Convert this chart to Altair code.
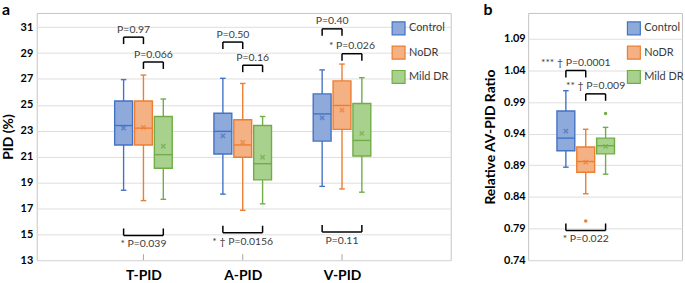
import altair as alt
import pandas as pd

# ---------------- data ----------------
groups = ["T-PID", "A-PID", "V-PID"]
series = ["Control", "NoDR", "Mild DR"]
fill_colors = ["#8eaadb", "#f4b183", "#a9d18e"]
stroke_colors = ["#4472c4", "#ed7d31", "#70ad47"]

# Panel a (PID %), values per group T-PID, A-PID, V-PID
ctrl_min = [18.4, 18.1, 18.7]
ctrl_q1 = [21.9, 21.2, 22.2]
ctrl_med = [23.4, 22.95, 24.3]
ctrl_q3 = [25.3, 24.35, 25.85]
ctrl_max = [26.95, 27.05, 27.7]
ctrl_mean = [23.2, 22.6, 24.0]

nodr_min = [17.6, 16.85, 18.5]
nodr_q1 = [21.9, 20.95, 23.1]
nodr_med = [23.2, 21.9, 24.95]
nodr_q3 = [25.3, 23.85, 26.85]
nodr_max = [27.3, 26.65, 28.15]
nodr_mean = [23.25, 22.1, 24.6]

mild_min = [17.7, 17.35, 18.25]
mild_q1 = [20.1, 19.2, 21.05]
mild_med = [21.15, 20.45, 22.25]
mild_q3 = [24.1, 23.4, 25.1]
mild_max = [25.45, 24.1, 27.1]
mild_mean = [21.8, 20.95, 22.8]

# Panel b (Relative AV-PID ratio), values per series Control, NoDR, Mild DR
ratio_min = [0.887, 0.845, 0.876]
ratio_q1 = [0.913, 0.879, 0.908]
ratio_med = [0.933, 0.896, 0.921]
ratio_q3 = [0.976, 0.919, 0.933]
ratio_max = [1.008, 0.947, 0.950]
ratio_mean = [0.944, 0.895, 0.920]
outlier_series = ["NoDR", "Mild DR"]
outlier_value = [0.802, 0.972]

# significance annotations, panel a
ann_a_group = ["T-PID", "T-PID", "T-PID", "A-PID", "A-PID", "A-PID", "V-PID", "V-PID", "V-PID"]
ann_a_from = ["Control", "NoDR", "Control"] * 3
ann_a_to = ["NoDR", "Mild DR", "Mild DR"] * 3
ann_a_level = [30.23, 28.31, 14.91, 29.85, 28.06, 15.12, 30.87, 28.95, 15.17]
ann_a_side = ["top", "top", "bottom"] * 3
ann_a_text = ["P=0.97", "P=0.066", "* P=0.039",
              "P=0.50", "P=0.16", "* \u2020 P=0.0156",
              "P=0.40", "* P=0.026", "P=0.11"]

# significance annotations, panel b
ann_b_from = ["Control", "NoDR", "Control"]
ann_b_to = ["NoDR", "Mild DR", "Mild DR"]
ann_b_level = [1.040, 1.003, 0.787]
ann_b_side = ["top", "top", "bottom"]
ann_b_text = ["*** \u2020 P=0.0001", "** \u2020 P=0.009", "* P=0.022"]

# ---------------- layout / style ----------------
SHIFT = {"Control": -0.2, "NoDR": 0.0, "Mild DR": 0.2}
BOX_HALF = 0.09
CAP_HALF = 0.028
H = 249
WA = 417
WB = 155
FONT = "Lato"
TXT = "#3a3a3a"


def box_rows(gpos, s, mn, q1, md, q3, mx, mean):
    p = gpos + SHIFT[s]
    return dict(series=s, pos=p, lo=p - BOX_HALF, hi=p + BOX_HALF,
                clo=p - CAP_HALF, chi=p + CAP_HALF,
                mn=mn, q1=q1, med=md, q3=q3, mx=mx, mean=mean)


rows_a = []
for gi, g in enumerate(groups):
    rows_a.append(box_rows(gi + 1, "Control", ctrl_min[gi], ctrl_q1[gi], ctrl_med[gi], ctrl_q3[gi], ctrl_max[gi], ctrl_mean[gi]))
    rows_a.append(box_rows(gi + 1, "NoDR", nodr_min[gi], nodr_q1[gi], nodr_med[gi], nodr_q3[gi], nodr_max[gi], nodr_mean[gi]))
    rows_a.append(box_rows(gi + 1, "Mild DR", mild_min[gi], mild_q1[gi], mild_med[gi], mild_q3[gi], mild_max[gi], mild_mean[gi]))
df_a = pd.DataFrame(rows_a)

rows_b = []
for si, s in enumerate(series):
    rows_b.append(box_rows(1, s, ratio_min[si], ratio_q1[si], ratio_med[si], ratio_q3[si], ratio_max[si], ratio_mean[si]))
df_b = pd.DataFrame(rows_b)
df_out = pd.DataFrame({"series": outlier_series, "value": outlier_value,
                       "pos": [1 + SHIFT[s] for s in outlier_series]})


def ann_frames(gpos_list, frm, to, level, side, text):
    br, legs = [], []
    for gp, f, t, lv, sd, tx in zip(gpos_list, frm, to, level, side, text):
        x1, x2 = gp + SHIFT[f], gp + SHIFT[t]
        br.append(dict(x1=x1, x2=x2, mid=(x1 + x2) / 2, level=lv, side=sd, text=tx))
        legs.append(dict(x=x1, level=lv, side=sd))
        legs.append(dict(x=x2, level=lv, side=sd))
    return pd.DataFrame(br), pd.DataFrame(legs)


gpos_a = [groups.index(g) + 1 for g in ann_a_group]
br_a, legs_a = ann_frames(gpos_a, ann_a_from, ann_a_to, ann_a_level, ann_a_side, ann_a_text)
br_b, legs_b = ann_frames([1, 1, 1], ann_b_from, ann_b_to, ann_b_level, ann_b_side, ann_b_text)

fill_scale = alt.Scale(domain=series, range=fill_colors)
stroke_scale = alt.Scale(domain=series, range=stroke_colors)
color_scale = alt.Scale(domain=series, range=stroke_colors)


def legend(x):
    return alt.Legend(orient="none", legendX=x, legendY=8, title=None,
                      symbolType="square", symbolSize=169, symbolStrokeWidth=1.2,
                      labelFontSize=11, labelColor=TXT, labelFont=FONT,
                      rowPadding=5.5, labelOffset=3, padding=0)


def panel(df, xscale, yscale, yaxis, xaxis, br, legs, legend_x, label, label_x, extra=()):
    X = lambda f: alt.X(f, type="quantitative", scale=xscale, axis=xaxis)
    Y = lambda f: alt.Y(f, type="quantitative", scale=yscale, axis=yaxis)
    col = alt.Color("series:N", scale=color_scale, legend=None)
    base = alt.Chart(df)
    whisk = base.mark_rule(strokeWidth=1.4).encode(x=X("pos"), y=Y("mn"), y2="mx", color=col)
    cap_top = base.mark_rule(strokeWidth=1.4).encode(x=X("clo"), x2="chi", y=Y("mx"), color=col)
    cap_bot = base.mark_rule(strokeWidth=1.4).encode(x=X("clo"), x2="chi", y=Y("mn"), color=col)
    box = base.mark_rect(strokeWidth=1.4).encode(
        x=X("lo"), x2="hi", y=Y("q1"), y2="q3",
        fill=alt.Fill("series:N", scale=fill_scale, legend=legend(legend_x)),
        stroke=alt.Stroke("series:N", scale=stroke_scale, legend=legend(legend_x)))
    med = base.mark_rule(strokeWidth=1.4).encode(x=X("lo"), x2="hi", y=Y("med"), color=col)
    mean = base.mark_point(shape="M-1,-1L1,1M1,-1L-1,1", filled=False, size=18,
                           strokeWidth=1.5).encode(x=X("pos"), y=Y("mean"), color=col)
    bl = alt.Chart(br).mark_rule(strokeWidth=1.5, color="#000000").encode(
        x=X("x1"), x2="x2", y=Y("level"))
    lg_top = alt.Chart(legs).transform_filter("datum.side == 'top'").mark_rule(
        strokeWidth=1.5, color="#000000", y2Offset=7).encode(x=X("x"), y=Y("level"), y2="level")
    lg_bot = alt.Chart(legs).transform_filter("datum.side == 'bottom'").mark_rule(
        strokeWidth=1.5, color="#000000", y2Offset=-7).encode(x=X("x"), y=Y("level"), y2="level")
    t_top = alt.Chart(br).transform_filter("datum.side == 'top'").mark_text(
        font=FONT, fontSize=10.5, color=TXT, dy=-4.5, baseline="alphabetic").encode(
        x=X("mid"), y=Y("level"), text="text:N")
    t_bot = alt.Chart(br).transform_filter("datum.side == 'bottom'").mark_text(
        font=FONT, fontSize=10.5, color=TXT, dy=12, baseline="alphabetic").encode(
        x=X("mid"), y=Y("level"), text="text:N")
    lab = alt.Chart(pd.DataFrame({"t": [label]})).mark_text(
        font=FONT, fontSize=16, fontWeight="bold", color="#000000", align="left",
        baseline="alphabetic").encode(x=alt.value(label_x), y=alt.value(2), text="t:N")
    layers = [whisk, cap_top, cap_bot, box, med, mean, bl, lg_top, lg_bot, t_top, t_bot, lab]
    layers += list(extra)
    return alt.layer(*layers)


# panel a
xs_a = alt.Scale(domain=[-0.075, 4.095], nice=False, zero=False)
ys_a = alt.Scale(domain=[13, 32.1], nice=False, zero=False)
label_expr = " : ".join(f"datum.value == {i + 1} ? '{g}'" for i, g in enumerate(groups[:-1])) + f" : '{groups[-1]}'"
xaxis_a = alt.Axis(values=[1, 2, 3], labelExpr=label_expr, ticks=False, domain=False, grid=False,
                   title=None, labelFont=FONT, labelFontSize=14, labelFontWeight="bold",
                   labelColor="#000000", labelPadding=9)
yaxis_a = alt.Axis(values=list(range(13, 32, 2)), ticks=False, domain=False, grid=True,
                   gridColor="#dedede", title="PID (%)", titleFont=FONT, titleFontSize=14,
                   titleFontWeight="bold", titleColor="#000000", titlePadding=5,
                   labelFont=FONT, labelFontSize=11, labelFontWeight="bold",
                   labelColor="#000000", labelPadding=4)
gtick = alt.Chart(pd.DataFrame({"g": [1, 2, 3]})).mark_rule(color="#a6a6a6", strokeWidth=1).encode(
    x=alt.X("g:Q", scale=xs_a, axis=xaxis_a), y=alt.value(H), y2=alt.value(H - 6))
pa = panel(df_a, xs_a, ys_a, yaxis_a, xaxis_a, br_a, legs_a, 357, "a", -35, extra=[gtick]).properties(
    width=WA, height=H)

# panel b
xs_b = alt.Scale(domain=[0.42, 1.97], nice=False, zero=False)
ys_b = alt.Scale(domain=[0.74, 1.131], nice=False, zero=False)
yaxis_b = alt.Axis(values=[round(0.74 + 0.05 * k, 2) for k in range(8)], format=".2f",
                   ticks=False, domain=False, grid=True, gridColor="#dedede",
                   title="Relative AV-PID Ratio", titleFont=FONT, titleFontSize=14,
                   titleFontWeight="bold", titleColor="#000000", titlePadding=6,
                   labelFont=FONT, labelFontSize=11, labelFontWeight="bold",
                   labelColor="#000000", labelPadding=3)
outl = alt.Chart(df_out).mark_circle(size=12, opacity=1).encode(
    x=alt.X("pos:Q", scale=xs_b, axis=None), y=alt.Y("value:Q", scale=ys_b, axis=yaxis_b),
    color=alt.Color("series:N", scale=color_scale, legend=None))
pb = panel(df_b, xs_b, ys_b, yaxis_b, None, br_b, legs_b, 99, "b", -45, extra=[outl]).properties(
    width=WB, height=H)

chart = alt.hconcat(pa, pb, spacing=31).resolve_legend(
    fill="independent", stroke="independent").configure(padding=0).configure_view(
    stroke="#c4c4c4", strokeWidth=1)

chart.save("out.html", embed_options={"renderer": "svg", "actions": False})
